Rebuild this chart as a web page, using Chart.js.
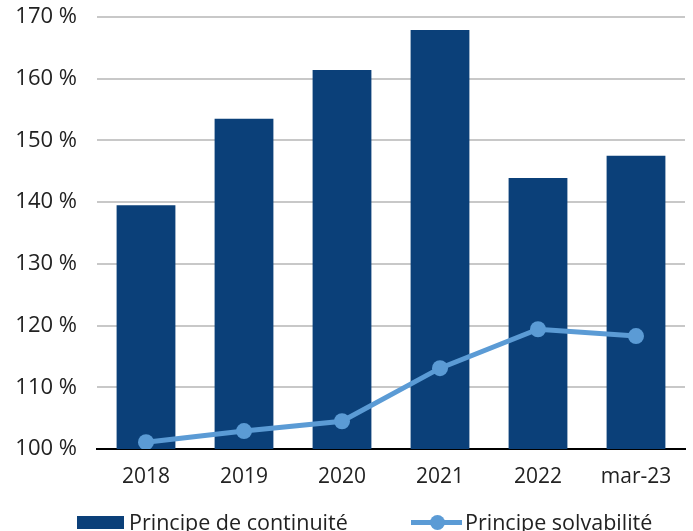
<!DOCTYPE html>
<html>
<head>
<meta charset="utf-8">
<script src="https://cdn.jsdelivr.net/npm/chart.js@4"></script>
<style>
  html, body { margin: 0; padding: 0; background: #fff; }
  #wrap { position: relative; width: 693px; height: 531px; overflow: hidden; }
  #legend { position: absolute; left: 0; top: 507px; width: 693px; height: 30px;
            font-family: "Open Sans", sans-serif; font-size: 21.5px; color: #222; }
  .item { position: absolute; top: 0; display: flex; align-items: center; white-space: nowrap; }
  .box { width: 47px; height: 13px; background: #0b4079; margin-right: 5px; margin-top: 2px; }
  .lineSw { position: relative; width: 51px; height: 14px; margin-right: 3px; }
  .lineSw .bar { position: absolute; left: 0; right: 0; top: 5px; height: 5px; background: #5b9bd5; }
  .lineSw .dot { position: absolute; left: 19px; top: 0px; width: 15px; height: 15px; border-radius: 50%; background: #5b9bd5; }
</style>
</head>
<body>
<div id="wrap">
  <canvas id="chart" width="693" height="531"></canvas>
  <div id="legend">
    <div class="item" style="left:77px"><span class="box"></span><span>Principe de continuité</span></div>
    <div class="item" style="left:411px"><span class="lineSw"><span class="bar"></span><span class="dot"></span></span><span>Principe solvabilité</span></div>
  </div>
</div>
<script>
// Données
const categories = ['2018', '2019', '2020', '2021', '2022', 'mar-23'];
const continuite = [139.5, 153.5, 161.4, 167.9, 143.9, 147.5];
const solvabilite = [101.1, 102.9, 104.5, 113.1, 119.4, 118.3];
const yTicks = [100, 110, 120, 130, 140, 150, 160, 170];

const ctx = document.getElementById('chart').getContext('2d');

new Chart(ctx, {
    type: 'bar',
    data: {
        labels: categories,
        datasets: [
            {
                type: 'line',
                label: 'Principe solvabilité',
                data: solvabilite,
                borderColor: '#5b9bd5',
                backgroundColor: '#5b9bd5',
                borderWidth: 5,
                pointRadius: 8,
                pointBorderWidth: 0,
                pointBackgroundColor: '#5b9bd5',
                tension: 0,
                order: 0
            },
            {
                label: 'Principe de continuité',
                data: continuite,
                backgroundColor: '#0b4079',
                categoryPercentage: 1,
                barPercentage: 0.6,
                order: 1
            }
        ]
    },
    options: {
        responsive: false,
        animation: false,
        layout: { padding: { top: 17, right: 0, bottom: 40, left: 0 } },
        plugins: {
            legend: { display: false },
            tooltip: { enabled: false }
        },
        scales: {
            x: {
                grid: { display: false },
                border: { color: '#000', width: 2 },
                ticks: {
                    color: '#222',
                    padding: 7,
                    maxRotation: 0,
                    font: { family: 'Open Sans', size: 21 }
                },
                afterFit: (axis) => {
                    axis.height = 42;
                    axis.paddingLeft = 0;
                    axis.paddingRight = 0;
                }
            },
            y: {
                min: 100,
                max: 170,
                afterBuildTicks: (axis) => { axis.ticks = yTicks.map(v => ({ value: v })); },
                grid: { color: '#c8c8c8', lineWidth: 2, drawTicks: false },
                border: { display: false },
                ticks: {
                    color: '#222',
                    padding: 20,
                    font: { family: 'Open Sans', size: 22 },
                    callback: (v) => v + ' %'
                },
                afterFit: (axis) => {
                    axis.width = 97;
                    axis.paddingTop = 0;
                    axis.paddingBottom = 0;
                }
            }
        }
    }
});
</script>
</body>
</html>
